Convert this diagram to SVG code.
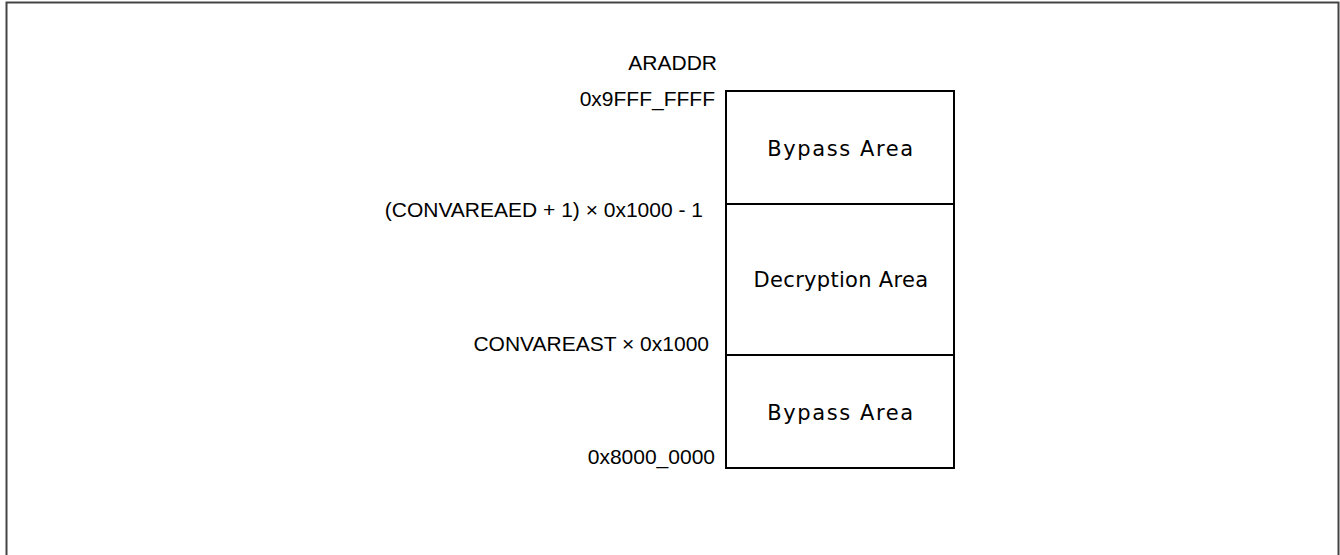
<svg xmlns="http://www.w3.org/2000/svg" width="1340" height="555" viewBox="0 0 1340 555">
<style>
.lbl{font-family:"Liberation Sans",Arial,sans-serif;font-size:21px;fill:#000;text-anchor:end}
.area{font-family:"DejaVu Sans","Noto Sans CJK JP",sans-serif;font-size:21px;fill:#000;text-anchor:middle;letter-spacing:0.3px}
.wide{letter-spacing:1.6px}
.box{fill:#fff;stroke:#000;stroke-width:2}
</style>
<rect width="1340" height="555" fill="#fff"/>
<path d="M6.5,555 V2.5 H1338.5 V555" fill="none" stroke="#444" stroke-width="2"/>
<g id="labels">
<text class="lbl" x="717" y="70">ARADDR</text>
<text class="lbl" x="715" y="106">0x9FFF_FFFF</text>
<text class="lbl" x="703" y="217">(CONVAREAED + 1) × 0x1000 - 1</text>
<text class="lbl" x="709" y="351">CONVAREAST × 0x1000</text>
<text class="lbl" x="715" y="464">0x8000_0000</text>
</g>
<g id="bypass-top">
<rect class="box" x="726" y="91" width="228" height="113"/>
<text class="area wide" x="841" y="156">Bypass Area</text>
</g>
<g id="decryption">
<rect class="box" x="726" y="204" width="228" height="151"/>
<text class="area" x="841" y="287">Decryption Area</text>
</g>
<g id="bypass-bottom">
<rect class="box" x="726" y="355" width="228" height="113"/>
<text class="area wide" x="841" y="420">Bypass Area</text>
</g>
<g id="connectors"></g>
</svg>
